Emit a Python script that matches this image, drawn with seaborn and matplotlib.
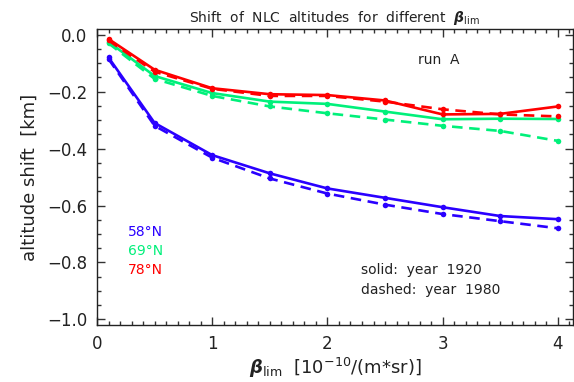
import matplotlib
matplotlib.use("Agg")
import matplotlib.pyplot as plt
import seaborn as sns
import numpy as np
import pandas as pd
from matplotlib.ticker import MultipleLocator

beta = [0.1, 0.5, 1.0, 1.5, 2.0, 2.5, 3.0, 3.5, 4.0]
n58_1920 = [-0.080, -0.310, -0.423, -0.487, -0.540, -0.573, -0.606, -0.637, -0.648]
n58_1980 = [-0.085, -0.320, -0.432, -0.505, -0.558, -0.597, -0.630, -0.655, -0.680]
n69_1920 = [-0.025, -0.145, -0.205, -0.235, -0.243, -0.270, -0.297, -0.295, -0.296]
n69_1980 = [-0.030, -0.155, -0.215, -0.252, -0.276, -0.298, -0.320, -0.338, -0.373]
n78_1920 = [-0.015, -0.123, -0.188, -0.209, -0.212, -0.231, -0.280, -0.278, -0.252]
n78_1980 = [-0.020, -0.130, -0.190, -0.215, -0.215, -0.235, -0.262, -0.280, -0.287]

latitudes = ["58°N", "69°N", "78°N"]
colors = ["#2a00ff", "#00f07a", "#ff0000"]

sns.set_style("ticks")
plt.rcParams['font.family'] = ['DejaVu Sans']
plt.rcParams['mathtext.fontset'] = 'dejavusans'

fig = plt.figure(figsize=(5.74, 3.82), dpi=100)
ax = fig.add_axes([0.169, 0.149, 0.829, 0.775])

series = [(n58_1920, n58_1980), (n69_1920, n69_1980), (n78_1920, n78_1980)]
for (solid, dashed), col in zip(series, colors):
    sns.lineplot(x=beta, y=solid, ax=ax, color=col, linewidth=1.9, linestyle='-',
                 marker='o', markersize=4, markeredgewidth=0)
    sns.lineplot(x=beta, y=dashed, ax=ax, color=col, linewidth=1.9, linestyle=(0, (4, 2.5)),
                 marker='o', markersize=4, markeredgewidth=0)

ax.set_xlim(0, 4.13)
ax.set_ylim(-1.02, 0.02)
ax.xaxis.set_major_locator(MultipleLocator(1))
ax.xaxis.set_minor_locator(MultipleLocator(0.1))
ax.yaxis.set_major_locator(MultipleLocator(0.2))
ax.yaxis.set_minor_locator(MultipleLocator(0.05))
ax.tick_params(which='both', direction='in', top=True, right=True, color='#333333', width=1)
ax.tick_params(which='major', length=6, labelsize=12, pad=7, labelcolor='#222222')
ax.tick_params(which='minor', length=3)
for s in ax.spines.values():
    s.set_color('#222222')
    s.set_linewidth(1)

ax.set_yticks([0.0, -0.2, -0.4, -0.6, -0.8, -1.0])
ax.set_yticklabels(["0.0", "\u22120.2", "\u22120.4", "\u22120.6", "\u22120.8", "\u22121.0"])
ax.set_xticks([0, 1, 2, 3, 4])
ax.set_xticklabels(["0", "1", "2", "3", "4"])

ax.set_ylabel("altitude shift  [km]", fontsize=13, color='#222222', labelpad=6)
ax.set_xlabel(r"$\boldsymbol{\beta}_{\rm lim}$  [10$^{-10}$/(m$*$sr)]", fontsize=13, color='#222222', labelpad=2)
ax.set_title(r"Shift  of  NLC  altitudes  for  different  $\boldsymbol{\beta}_{\rm lim}$", fontsize=10, color='#222222', pad=5)

for i, (lab, col) in enumerate(zip(latitudes, colors)):
    ax.text(0.065, 0.314 - i * 0.064, lab, transform=ax.transAxes, color=col, fontsize=10, va='center')

ax.text(0.674, 0.895, "run  A", transform=ax.transAxes, fontsize=10, color='#222222', va='center')
ax.text(0.555, 0.186, "solid:  year  1920", transform=ax.transAxes, fontsize=10, color='#222222', va='center')
ax.text(0.555, 0.118, "dashed:  year  1980", transform=ax.transAxes, fontsize=10, color='#222222', va='center')

fig.savefig("out.png", dpi=100)
